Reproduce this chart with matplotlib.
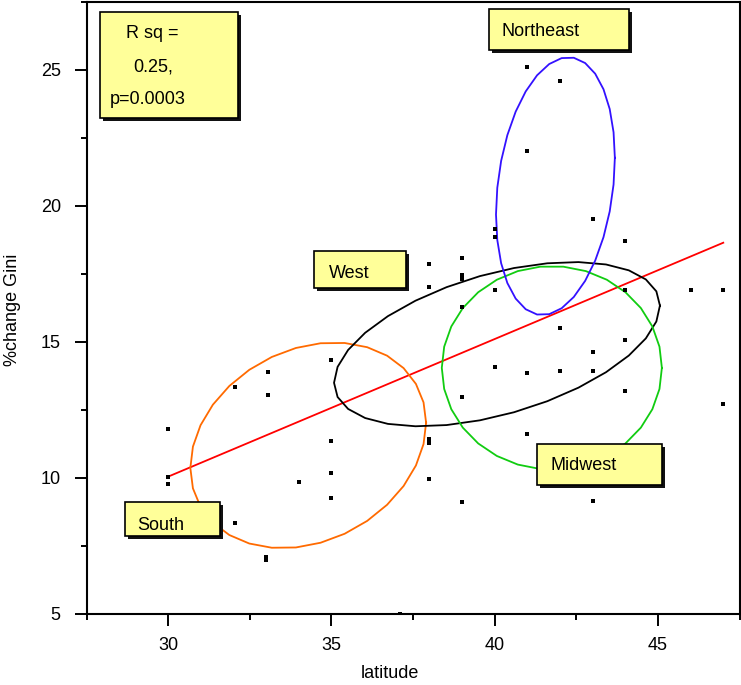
import numpy as np
import matplotlib
matplotlib.use("Agg")
import matplotlib.pyplot as plt
from matplotlib.patches import Rectangle
from matplotlib.ticker import MultipleLocator

plt.rcParams['font.family'] = ['Liberation Sans', 'DejaVu Sans']

# ----------------------------------------------------------------------
# data
# ----------------------------------------------------------------------
lat = [30, 30, 30,
       32.05, 32.05,
       33.05, 33.05, 33.0, 33.0,
       34.0,
       35.0, 35.0, 35.0, 35.0,
       37.1,
       38.0, 38.0, 38.0, 38.0, 38.0,
       39.0, 39.0, 39.0, 39.0, 39.0, 39.0,
       40.0, 40.0, 40.0, 40.0,
       41.0, 41.0, 41.0, 41.0,
       42.0, 42.0, 42.0,
       43.0, 43.0, 43.0, 43.0,
       44.0, 44.0, 44.0, 44.0,
       46.0,
       47.0, 47.0]
gini = [11.8, 10.05, 9.78,
        13.33, 8.33,
        13.9, 13.04, 7.1, 7.0,
        9.84,
        14.33, 11.35, 10.17, 9.25,
        5.0,
        17.87, 17.02, 11.45, 11.3, 9.98,
        18.08, 17.45, 17.3, 16.27, 12.97, 9.1,
        19.14, 18.86, 16.93, 14.07,
        25.12, 22.03, 13.85, 11.6,
        24.6, 15.52, 13.92,
        19.51, 14.63, 13.92, 9.17,
        18.7, 16.93, 15.07, 13.19,
        16.93,
        16.93, 12.71]

# fitted line end points
fit_x = [30, 47]
fit_y = [10.05, 18.65]

# region ellipses: centre, half-extent in x and y, correlation
regions = ["South", "West", "Midwest", "Northeast"]
ell_cx = [34.29, 40.07, 41.75, 41.86]
ell_cy = [11.20, 14.92, 14.05, 20.73]
ell_sx = [3.61, 4.99, 3.37, 1.82]
ell_sy = [3.78, 3.02, 3.74, 4.74]
ell_rho = [0.22, 0.47, 0.0, 0.22]
ell_col = ["#ff6a00", "black", "#11cc11", "#3311ff"]

stats_lines = ["R sq =", "0.25,", "p=0.0003"]

# ----------------------------------------------------------------------
W, H = 741, 685
fig = plt.figure(figsize=(W / 100, H / 100), dpi=100)
ax = fig.add_axes([86.5 / W, 1 - 614 / H, (739.6 - 86.5) / W, (614 - 2) / H])

ax.plot(lat, gini, ls="none", marker="s", ms=3.4, mew=0, color="black", zorder=3)
ax.plot(fit_x, fit_y, color="red", lw=1.3, zorder=2)

t = np.linspace(0, 2 * np.pi, 31)
for cx, cy, sx, sy, r, c in zip(ell_cx, ell_cy, ell_sx, ell_sy, ell_rho, ell_col):
    ex = cx + sx * np.cos(t)
    ey = cy + sy * (r * np.cos(t) + np.sqrt(1 - r * r) * np.sin(t))
    ax.plot(ex, ey, color=c, lw=1.3, zorder=2)

ax.set_xlim(27.5, 47.5)
ax.set_ylim(5, 27.5)
ax.xaxis.set_major_locator(MultipleLocator(5))
ax.xaxis.set_minor_locator(MultipleLocator(2.5))
ax.yaxis.set_major_locator(MultipleLocator(5))
ax.yaxis.set_minor_locator(MultipleLocator(2.5))
ax.set_xticks([30, 35, 40, 45])
ax.set_yticks([5, 10, 15, 20, 25])
ax.tick_params(which="major", length=8.5, width=1.4, labelsize=13, direction="out")
ax.tick_params(which="minor", length=4.5, width=1.4, direction="out")
ax.tick_params(axis="y", pad=10)
ax.tick_params(axis="x", pad=8)
for sp in ax.spines.values():
    sp.set_linewidth(1.5)

ax.set_xlabel("latitude", fontsize=13)
ax.xaxis.set_label_coords((390 - 86.5) / 653, -(674 - 614) / 612, transform=ax.transAxes)
ax.xaxis.label.set_va("center")
ax.set_ylabel("%change Gini", fontsize=13)
ax.yaxis.set_label_coords((13 - 86.5) / 653, (614 - 310) / 612, transform=ax.transAxes)
ax.yaxis.label.set_va("center")


def fx(px):
    return px / W


def fy(py):
    return 1 - py / H


def label_box(x0, y0, x1, y1):
    # shadow then yellow box, pixel coords from the top-left corner
    sh = Rectangle((fx(x0 + 3), fy(y1 + 3)), fx(x1 - x0), (y1 - y0) / H,
                   transform=fig.transFigure, facecolor="#111111",
                   edgecolor="none", zorder=5)
    bx = Rectangle((fx(x0), fy(y1)), fx(x1 - x0), (y1 - y0) / H,
                   transform=fig.transFigure, facecolor="#ffff99",
                   edgecolor="black", lw=1.2, zorder=6)
    fig.add_artist(sh)
    fig.add_artist(bx)


def label_text(px, py, s):
    fig.text(fx(px), fy(py), s, fontsize=13, ha="left", va="center", zorder=7)


label_box(100, 12, 238, 118)
label_text(126, 34, stats_lines[0])
label_text(133, 67, stats_lines[1])
label_text(110, 99, stats_lines[2])

label_box(489, 9, 629, 50)
label_text(501, 31, regions[3])
label_box(314, 251, 406, 288)
label_text(329, 273, regions[1])
label_box(125, 502, 220, 536)
label_text(137, 525, regions[0])
label_box(537, 444, 662, 485)
label_text(551, 466, regions[2])

fig.savefig("out.png", dpi=100)
